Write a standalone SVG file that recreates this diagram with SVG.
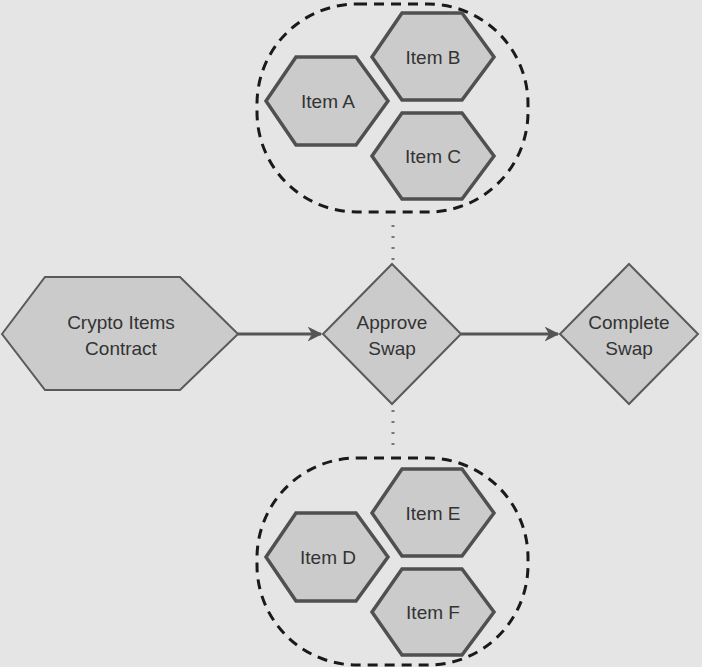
<svg xmlns="http://www.w3.org/2000/svg" width="702" height="667" viewBox="0 0 702 667">
<defs>
<style>
.n{fill:#cbcbcb;stroke:#505050;stroke-width:3.5;stroke-linejoin:miter}
.d{fill:#cbcbcb;stroke:#5a5a5a;stroke-width:2}
.t{font-family:"Liberation Sans",Arial,sans-serif;font-size:19px;fill:#333;text-anchor:middle}
.g{fill:none;stroke:#1a1a1a;stroke-width:3;stroke-dasharray:10 7}
.c{stroke:#555;stroke-width:3;fill:none}
.dot{stroke:#777;stroke-width:3;stroke-dasharray:2 9;fill:none}
</style>
<marker id="ar" viewBox="0 0 10 10" refX="9" refY="5" markerWidth="5" markerHeight="5" orient="auto"><path d="M0,0L10,5L0,10L3,5z" fill="#555"/></marker>
</defs>
<rect width="702" height="667" fill="#e5e5e5"/>
<g id="connectors">
<line class="c" x1="238" y1="334" x2="321" y2="334" marker-end="url(#ar)"/>
<line class="c" x1="461" y1="334" x2="558" y2="334" marker-end="url(#ar)"/>
<line class="dot" x1="393" y1="225" x2="393" y2="260"/>
<line class="dot" x1="393" y1="410" x2="393" y2="452"/>
</g>
<g id="groupTop"><rect class="g" x="257" y="4" width="271" height="208" rx="100" ry="100"/></g>
<g id="groupBottom"><rect class="g" x="257" y="458" width="271" height="207" rx="100" ry="100"/></g>
<g id="crypto"><polygon class="d" points="2,334 45,277 180,277 238,334 180,390 45,390"/><text class="t" x="121" y="329">Crypto Items</text><text class="t" x="121" y="355">Contract</text></g>
<g id="approve"><polygon class="d" points="392,264 461,334 392,404 323,334"/><text class="t" x="392" y="329">Approve</text><text class="t" x="392" y="355">Swap</text></g>
<g id="complete"><polygon class="d" points="629,264 698,334 629,404 560,334"/><text class="t" x="629" y="329">Complete</text><text class="t" x="629" y="355">Swap</text></g>
<g id="itemA"><polygon class="n" points="266,101 296,57 356,57 388,101 356,145 296,145"/><text class="t" x="328" y="108">Item A</text></g>
<g id="itemB"><polygon class="n" points="372,57 402,13 462,13 494,57 462,100 402,100"/><text class="t" x="433" y="64">Item B</text></g>
<g id="itemC"><polygon class="n" points="372,156 402,113 462,113 494,156 462,199 402,199"/><text class="t" x="433" y="163">Item C</text></g>
<g id="itemD"><polygon class="n" points="266,557 296,513 356,513 388,557 356,601 296,601"/><text class="t" x="328" y="564">Item D</text></g>
<g id="itemE"><polygon class="n" points="372,513 402,469 462,469 494,513 462,556 402,556"/><text class="t" x="433" y="520">Item E</text></g>
<g id="itemF"><polygon class="n" points="372,612 402,569 462,569 494,612 462,655 402,655"/><text class="t" x="433" y="619">Item F</text></g>
</svg>
